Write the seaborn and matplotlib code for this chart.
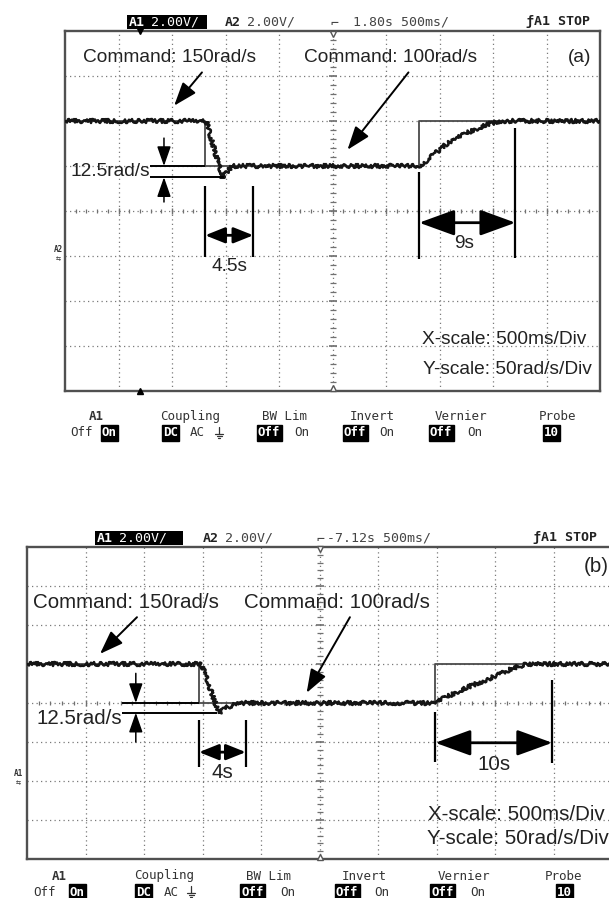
import matplotlib
matplotlib.use("Agg")
import matplotlib.pyplot as plt
from matplotlib import font_manager
from matplotlib.patches import Rectangle
from matplotlib.lines import Line2D
import seaborn as sns

W, H = 609, 898

# Panel (a): speed command and measured speed (time in s, speed in rad/s)
a_cmd_t = [0.0, 13.1, 13.1, 33.1, 33.1, 50.0]
a_cmd_w = [150, 150, 100, 100, 150, 150]
a_spd_t = [0.0, 13.2, 14.7, 15.1, 15.6, 33.1, 33.85, 35.7, 37.6, 39.5, 40.7, 50.0]
a_spd_w = [150, 150, 87.5, 93, 100, 100, 106.5, 125, 137, 146.5, 150, 150]

# Panel (b)
b_cmd_t = [0.0, 14.7, 14.7, 34.9, 34.9, 50.0]
b_cmd_w = [150, 150, 100, 100, 150, 150]
b_spd_t = [0.0, 14.9, 16.4, 17.2, 18.0, 34.9, 35.6, 37.6, 39.3, 40.5, 41.6, 42.8, 50.0]
b_spd_w = [150, 150, 87.5, 95, 100, 100, 106, 120, 130, 137.5, 145, 150, 150]

# dimension annotations: (start, end) in s
a_settle = (13.1, 17.6)
a_rise = (33.1, 42.1)
b_settle = (14.7, 18.7)
b_rise = (34.9, 44.9)
dip = 12.5  # rad/s undershoot

sns.set_theme(style="white")


def has_font(name):
    try:
        font_manager.findfont(name, fallback_to_default=False)
        return True
    except Exception:
        return False


HAS_NARROW = has_font("Liberation Sans Narrow")
SANS = ["Liberation Sans", "DejaVu Sans"]
NARROW = ["Liberation Sans Narrow", "Liberation Sans", "DejaVu Sans"]
MONO = ["DejaVu Sans Mono", "DejaVu Sans"]
INK = "#222222"

fig = plt.figure(figsize=(W / 100, H / 100), dpi=100)


def add_panel(left, top, right, bottom):
    return fig.add_axes([left / W, 1 - bottom / H, (right - left) / W, (bottom - top) / H])


def ftext(x, y, s, **kw):
    kw.setdefault("va", "center")
    return fig.text(x / W, 1 - y / H, s, **kw)


def fline(xs, ys, **kw):
    fig.add_artist(Line2D([x / W for x in xs], [1 - y / H for y in ys],
                          transform=fig.transFigure, **kw))


def fbox(x0, y0, x1, y1):
    fig.add_artist(Rectangle((x0 / W, 1 - y1 / H), (x1 - x0) / W, (y1 - y0) / H,
                             transform=fig.transFigure, fc="black", ec="none", zorder=2))


def draw_panel(ax, cmd_t, cmd_w, spd_t, spd_w, ylo, px_x, px_y):
    ax.set_xlim(0, 50)
    ax.set_ylim(ylo, ylo + 400)
    ax.set_xticks([])
    ax.set_yticks([])
    for s in ax.spines.values():
        s.set_color("#505050")
        s.set_linewidth(1.7)
    grid = dict(color="#7a7a7a", lw=0.9, ls=(0, (1, 2.6)), zorder=1)
    for gx in range(5, 50, 5):
        ax.axvline(gx, **grid)
    for gy in range(ylo + 50, ylo + 400, 50):
        ax.axhline(gy, **grid)
    yc = ylo + 200
    # graticule ticks on the centre lines
    tx = [t for t in range(1, 50) if t % 5]
    ax.vlines(tx, yc - 2 * px_y, yc + 2 * px_y, color="#707070", lw=0.9, zorder=1)
    ax.vlines(range(5, 50, 5), yc - 3 * px_y, yc + 3 * px_y, color="#707070", lw=1.0, zorder=1)
    ty = [w for w in range(ylo + 10, ylo + 400, 10) if (w - ylo) % 50]
    ax.hlines(ty, 25 - 3 * px_x, 25 + 3 * px_x, color="#707070", lw=0.9, zorder=1)
    ax.hlines(range(ylo + 50, ylo + 400, 50), 25 - 4 * px_x, 25 + 4 * px_x,
              color="#707070", lw=1.2, zorder=1)
    sns.lineplot(x=cmd_t, y=cmd_w, ax=ax, sort=False, estimator=None,
                 color="#4a4a4a", lw=1.3, zorder=3)
    sns.lineplot(x=spd_t, y=spd_w, ax=ax, sort=False, estimator=None,
                 color="#151515", lw=1.8, zorder=4)
    ax.lines[-1].set_sketch_params(scale=2.0, length=2.5, randomness=8)


def arrow(ax, tail, tip, ms=20, hl=0.72, hw=0.26, lw=1.4):
    ax.annotate("", xy=tip, xytext=tail,
                arrowprops=dict(arrowstyle=f"-|>,head_length={hl},head_width={hw}",
                                mutation_scale=ms, color="black", lw=lw,
                                shrinkA=0, shrinkB=0), zorder=6)


def dim_arrow(ax, x0, x1, y, ms, hl, hw):
    ax.annotate("", xy=(x1, y), xytext=(x0, y),
                arrowprops=dict(arrowstyle=f"<|-|>,head_length={hl},head_width={hw}",
                                mutation_scale=ms, color="black", lw=2.0,
                                shrinkA=0, shrinkB=0), zorder=6)


# ---------------- panel (a) ----------------
ax_a = add_panel(65, 31, 600, 391)
pxa_x, pxa_y = 50 / 535, 400 / 360
draw_panel(ax_a, a_cmd_t, a_cmd_w, a_spd_t, a_spd_w, -150, pxa_x, pxa_y)

# 12.5 rad/s undershoot marker
ax_a.hlines(100, 7.9, a_cmd_t[1], color="black", lw=1.4, zorder=5)
ax_a.hlines(100 - dip, 7.9, 14.9, color="black", lw=1.4, zorder=5)
arrow(ax_a, (9.25, 131), (9.25, 100), ms=12, hl=1.0, hw=0.35, lw=1.1)
arrow(ax_a, (9.25, 60), (9.25, 100 - dip), ms=12, hl=1.0, hw=0.35, lw=1.1)
# command arrows
arrow(ax_a, (12.8, 204), (10.2, 167))
arrow(ax_a, (32.1, 204), (26.4, 118))
# settling / rise dimensions
ax_a.vlines(list(a_settle), -1, 78, color="black", lw=1.6, zorder=5)
dim_arrow(ax_a, a_settle[0], a_settle[1], 23, 12, 1.0, 0.4)
ax_a.vlines(a_rise[0], -3, 93, color="black", lw=1.6, zorder=5)
ax_a.vlines(a_rise[1], -2, 142, color="black", lw=1.6, zorder=5)
dim_arrow(ax_a, a_rise[0], a_rise[1], 37, 20, 1.1, 0.4)

fa = NARROW if HAS_NARROW else SANS
sa = 16.3 if HAS_NARROW else 13.8
ftext(83, 58, "Command: 150rad/s", family=fa, fontsize=sa, color=INK)
ftext(304, 58, "Command: 100rad/s", family=fa, fontsize=sa, color=INK)
ftext(568, 57, "(a)", family=fa, fontsize=sa, color=INK)
ftext(71, 171, "12.5rad/s", family=fa, fontsize=sa, color=INK)
ftext(230, 266, "4.5s", family=fa, fontsize=sa, color=INK, ha="center")
ftext(464, 243, "9s", family=fa, fontsize=sa, color=INK, ha="center")
ftext(422, 340, "X-scale: 500ms/Div", family=fa, fontsize=sa, color=INK)
ftext(423, 370, "Y-scale: 50rad/s/Div", family=fa, fontsize=sa, color=INK)

# ---------------- panel (b) ----------------
ax_b = add_panel(27, 547, 612, 859)
pxb_x, pxb_y = 50 / 585, 400 / 312
draw_panel(ax_b, b_cmd_t, b_cmd_w, b_spd_t, b_spd_w, -100, pxb_x, pxb_y)

ax_b.hlines(100, 8.1, b_cmd_t[1], color="black", lw=1.4, zorder=5)
ax_b.hlines(100 - dip, 8.1, 16.2, color="black", lw=1.4, zorder=5)
arrow(ax_b, (9.3, 138), (9.3, 100), ms=12, hl=1.0, hw=0.35, lw=1.1)
arrow(ax_b, (9.3, 50), (9.3, 100 - dip), ms=12, hl=1.0, hw=0.35, lw=1.1)
arrow(ax_b, (9.4, 210), (6.24, 163))
arrow(ax_b, (27.6, 210), (23.9, 113))
ax_b.vlines(list(b_settle), 18, 78, color="black", lw=1.6, zorder=5)
dim_arrow(ax_b, b_settle[0], b_settle[1], 37, 12, 1.0, 0.4)
ax_b.vlines(b_rise[0], 24, 88, color="black", lw=1.6, zorder=5)
ax_b.vlines(b_rise[1], 23, 130, color="black", lw=1.6, zorder=5)
dim_arrow(ax_b, b_rise[0], b_rise[1], 49, 20, 1.1, 0.4)

fb = SANS
sb = 14.8
ftext(33, 603, "Command: 150rad/s", family=fb, fontsize=sb, color=INK)
ftext(244, 603, "Command: 100rad/s", family=fb, fontsize=sb, color=INK)
ftext(584, 566, "(b)", family=fb, fontsize=sb, color=INK)
ftext(36, 719, "12.5rad/s", family=fb, fontsize=sb, color=INK)
ftext(222, 773, "4s", family=fb, fontsize=sb, color=INK, ha="center")
ftext(494, 764, "10s", family=fb, fontsize=sb, color=INK, ha="center")
ftext(428, 815, "X-scale: 500ms/Div", family=fb, fontsize=sb, color=INK)
ftext(427, 838, "Y-scale: 50rad/s/Div", family=fb, fontsize=sb, color=INK)

# ---------------- scope status lines ----------------
def header(y, x_a1, x_a1_end, x_a2, x_trig, x_time, time_txt, x_stop):
    fbox(x_a1 - 2, y - 7, x_a1_end, y + 7)
    ftext(x_a1, y, "A1", family=MONO, fontsize=9.5, weight="bold", color="white", zorder=3)
    ftext(x_a1 + 22, y, "2.00V/", family=MONO, fontsize=9.5, color="white", zorder=3)
    ftext(x_a2, y, "A2", family=MONO, fontsize=9.5, weight="bold", color=INK)
    ftext(x_a2 + 22, y, "2.00V/", family=MONO, fontsize=9.5, color="#444444")
    ftext(x_trig, y + 1, "⌐", family=MONO, fontsize=9.5, color="#444444", ha="center")
    ftext(x_time, y, time_txt, family=MONO, fontsize=9.5, color="#444444")
    ftext(x_stop, y, "ƒA1 STOP", family=MONO, fontsize=9.5, weight="bold", color=INK)


header(22, 129, 207, 225, 334, 353, "1.80s 500ms/", 526)
header(538, 97, 183, 203, 320, 327, "-7.12s 500ms/", 533)


def ground(x, y):
    # earth symbol next to the AC coupling choice
    fline([x, x], [y - 6, y + 1], color="#333333", lw=0.9)
    fline([x - 4, x + 4], [y + 1, y + 1], color="#333333", lw=0.9)
    fline([x - 2.5, x + 2.5], [y + 3, y + 3], color="#333333", lw=0.9)
    fline([x - 1, x + 1], [y + 5, y + 5], color="#333333", lw=0.9)


def footer(y, heads, rows, gx):
    for txt, xc, bold in heads:
        ftext(xc, y, txt, family=MONO, fontsize=9, ha="center", color="#333333",
              weight="bold" if bold else "normal")
    for txt, xl, boxed in rows:
        if boxed:
            ftext(xl, y + 16, txt, family=MONO, fontsize=9, color="white", weight="bold",
                  bbox=dict(boxstyle="square,pad=0.1", fc="black", ec="black"))
        else:
            ftext(xl, y + 16, txt, family=MONO, fontsize=9, color="#333333")
    ground(gx, y + 16)


footer(417,
       [("A1", 96, True), ("Coupling", 190, False), ("BW Lim", 284, False),
        ("Invert", 372, False), ("Vernier", 461, False), ("Probe", 557, False)],
       [("Off", 70, False), ("On", 102, True), ("DC", 163, True), ("AC", 190, False),
        ("Off", 258, True), ("On", 294, False), ("Off", 344, True), ("On", 379, False),
        ("Off", 430, True), ("On", 467, False), ("10", 544, True)], 219)
footer(876,
       [("A1", 59, True), ("Coupling", 164, False), ("BW Lim", 268, False),
        ("Invert", 364, False), ("Vernier", 464, False), ("Probe", 564, False)],
       [("Off", 33, False), ("On", 70, True), ("DC", 136, True), ("AC", 164, False),
        ("Off", 241, True), ("On", 280, False), ("Off", 336, True), ("On", 374, False),
        ("Off", 431, True), ("On", 470, False), ("10", 557, True)], 191)

# channel ground markers and trigger/position markers
ftext(58, 250, "A2", family=MONO, fontsize=5.5, weight="bold", ha="center", color="#333333")
ftext(58, 259, "⇆", family=MONO, fontsize=6, ha="center", color="#333333")
ftext(18, 774, "A1", family=MONO, fontsize=5.5, weight="bold", ha="center", color="#333333")
ftext(18, 783, "⇆", family=MONO, fontsize=6, ha="center", color="#333333")
ax_a.plot([7.0], [250], marker="v", ms=5, color="black", clip_on=False, zorder=7)
ax_a.plot([7.0], [-150], marker="^", ms=5, color="black", clip_on=False, zorder=7)
ax_a.plot([25], [247], marker="v", ms=5, mfc="white", mec="#555555", clip_on=False, zorder=7)
ax_a.plot([25], [-147], marker="^", ms=5, mfc="white", mec="#555555", clip_on=False, zorder=7)
ax_b.plot([25], [297], marker="v", ms=5, mfc="white", mec="#555555", clip_on=False, zorder=7)
ax_b.plot([25], [-97], marker="^", ms=5, mfc="white", mec="#555555", clip_on=False, zorder=7)

fig.savefig("out.png", dpi=100)
